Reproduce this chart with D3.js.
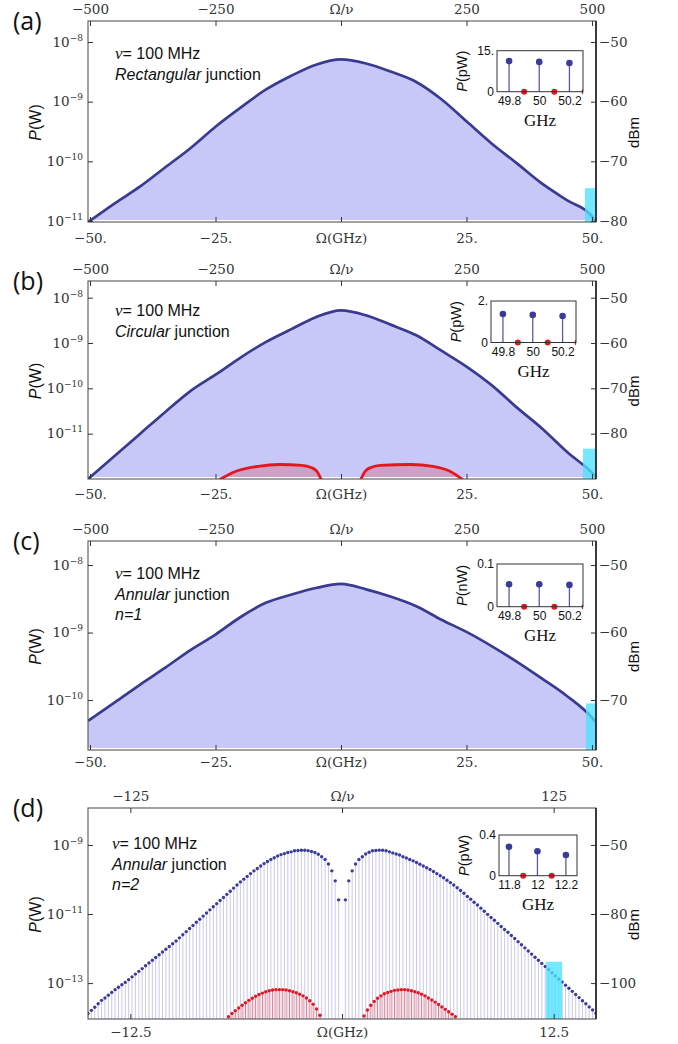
<!DOCTYPE html>
<html>
<head>
<meta charset="utf-8">
<script src="https://cdn.jsdelivr.net/npm/d3@7/dist/d3.min.js"></script>
<style>
  body { margin: 0; background: #fff; }
  svg { display: block; }
</style>
</head>
<body>
<script>
// Emission spectra. Powers are kept as log10(P / W).

// ---- panels (a)-(c): continuous envelopes ----
var omegaGrid = [-50.4, -45, -40, -35, -30, -25, -20, -15, -10, -5, 0, 5, 10, 15, 20, 25, 30, 35, 40, 45, 50, 50.8];

var logPRectangular = [-11.02, -10.7, -10.42, -10.1, -9.78, -9.42, -9.1, -8.8, -8.57, -8.38, -8.29,
                       -8.36, -8.5, -8.67, -8.96, -9.33, -9.7, -10.03, -10.37, -10.65, -10.92, -11.02];
var logPCircular = [-12.0, -11.48, -11.0, -10.52, -10.06, -9.7, -9.32, -8.98, -8.7, -8.43, -8.28,
                    -8.39, -8.6, -8.83, -9.17, -9.52, -9.93, -10.42, -10.88, -11.4, -11.86, -11.95];
var logPAnnular1 = [-10.31, -10.03, -9.77, -9.52, -9.26, -9.03, -8.77, -8.56, -8.44, -8.34, -8.28,
                    -8.36, -8.47, -8.61, -8.81, -8.99, -9.2, -9.43, -9.68, -9.94, -10.26, -10.33];

// circular junction, the two red lobes
var redOmegaLeft = [-24.3, -20.9, -16.5, -12.2, -7.8, -6.1, -4.8, -3.9];
var redLogPLeft = [-12.02, -11.83, -11.72, -11.68, -11.7, -11.74, -11.83, -12.02];
var redOmegaRight = [3.9, 4.8, 6.1, 7.8, 13.9, 18.3, 21.7, 24.3];
var redLogPRight = [-12.02, -11.83, -11.74, -11.7, -11.68, -11.72, -11.83, -12.02];

// ---- panel (d): annular junction n=2, discrete lines ----
var combOmega = [-15, -14.8, -14.6, -14.4, -14.2, -14, -13.8, -13.6, -13.4, -13.2, -13, -12.8, -12.6, -12.4, -12.2,
  -12, -11.8, -11.6, -11.4, -11.2, -11, -10.8, -10.6, -10.4, -10.2, -10, -9.8, -9.6, -9.4, -9.2, -9, -8.8, -8.6,
  -8.4, -8.2, -8, -7.8, -7.6, -7.4, -7.2, -7, -6.8, -6.6, -6.4, -6.2, -6, -5.8, -5.6, -5.4, -5.2, -5, -4.8, -4.6,
  -4.4, -4.2, -4, -3.8, -3.6, -3.4, -3.2, -3, -2.8, -2.6, -2.4, -2.2, -2, -1.8, -1.6, -1.4, -1.2, -1, -0.8, -0.6,
  -0.4, -0.2, 0, 0.2, 0.4, 0.6, 0.8, 1, 1.2, 1.4, 1.6, 1.8, 2, 2.2, 2.4, 2.6, 2.8, 3, 3.2, 3.4, 3.6, 3.8, 4, 4.2,
  4.4, 4.6, 4.8, 5, 5.2, 5.4, 5.6, 5.8, 6, 6.2, 6.4, 6.6, 6.8, 7, 7.2, 7.4, 7.6, 7.8, 8, 8.2, 8.4, 8.6, 8.8, 9,
  9.2, 9.4, 9.6, 9.8, 10, 10.2, 10.4, 10.6, 10.8, 11, 11.2, 11.4, 11.6, 11.8, 12, 12.2, 12.4, 12.6, 12.8, 13,
  13.2, 13.4, 13.6, 13.8, 14, 14.2, 14.4, 14.6, 14.8, 15];
var combLogP = [-13.88, -13.79, -13.7, -13.6, -13.5, -13.43, -13.35, -13.27, -13.19, -13.12, -13.05, -12.98, -12.9,
  -12.82, -12.74, -12.66, -12.58, -12.5, -12.42, -12.34, -12.26, -12.18, -12.1, -12.02, -11.94, -11.86, -11.78,
  -11.69, -11.6, -11.51, -11.42, -11.33, -11.24, -11.15, -11.06, -10.97, -10.88, -10.79, -10.7, -10.61, -10.52,
  -10.43, -10.34, -10.25, -10.16, -10.07, -9.99, -9.91, -9.83, -9.75, -9.68, -9.61, -9.54, -9.48, -9.42, -9.37,
  -9.32, -9.28, -9.25, -9.22, -9.2, -9.17, -9.16, -9.155, -9.155, -9.165, -9.19, -9.22, -9.27, -9.34, -9.42,
  -9.55, -9.75, -10.04, -10.59, null,
  -10.59, -10.04, -9.75, -9.55, -9.42, -9.34, -9.26, -9.21, -9.17, -9.16, -9.15, -9.155, -9.17, -9.2, -9.23,
  -9.26, -9.29, -9.34, -9.38, -9.42, -9.46, -9.51, -9.56, -9.61, -9.66, -9.71, -9.77, -9.83, -9.89, -9.95,
  -10.02, -10.09, -10.16, -10.24, -10.32, -10.4, -10.49, -10.57, -10.66, -10.74, -10.83, -10.92, -11.01, -11.1,
  -11.18, -11.27, -11.36, -11.45, -11.53, -11.62, -11.71, -11.8, -11.89, -11.98, -12.07, -12.16, -12.25, -12.34,
  -12.43, -12.52, -12.61, -12.7, -12.79, -12.88, -12.97, -13.06, -13.15, -13.24, -13.33, -13.42, -13.51, -13.6,
  -13.69, -13.78, -13.87];
var combRedOmega = [-6.7, -6.5, -6.3, -6.1, -5.9, -5.7, -5.5, -5.3, -5.1, -4.9, -4.7, -4.5, -4.3, -4.1, -3.9, -3.7,
  -3.5, -3.3, -3.1, -2.9, -2.7, -2.5, -2.3, -2.1, -1.9, -1.7, -1.5, -1.3,
  1.3, 1.5, 1.7, 1.9, 2.1, 2.3, 2.5, 2.7, 2.9, 3.1, 3.3, 3.5, 3.7, 3.9, 4.1, 4.3, 4.5, 4.7, 4.9, 5.1, 5.3, 5.5,
  5.7, 5.9, 6.1, 6.3, 6.5, 6.7];
var combRedLogP = [-13.97, -13.88, -13.8, -13.72, -13.64, -13.57, -13.5, -13.44, -13.38, -13.33, -13.29, -13.25,
  -13.22, -13.2, -13.19, -13.19, -13.19, -13.2, -13.22, -13.25, -13.28, -13.32, -13.37, -13.43, -13.51, -13.61,
  -13.75, -13.93,
  -13.95, -13.78, -13.64, -13.53, -13.44, -13.37, -13.31, -13.27, -13.24, -13.21, -13.2, -13.19, -13.19, -13.2,
  -13.22, -13.25, -13.28, -13.32, -13.37, -13.43, -13.49, -13.55, -13.62, -13.69, -13.76, -13.83, -13.9, -13.97];

// highlighted bands [from, to, log10 top]
var bandRectangular = [48.6, 50.8, -10.45];
var bandCircular = [48.2, 50.8, -11.33];
var bandAnnular1 = [48.8, 50.8, -10.05];
var bandAnnular2 = [12.05, 13.0, -12.38];

// ---- insets ----
var insetFreq50 = [49.8, 50, 50.2];
var insetLabels50 = ["49.8", "50", "50.2"];
var insetRedFreq50 = [49.7, 49.9, 50.1, 50.3];
var insetFreq12 = [11.8, 12, 12.2];
var insetLabels12 = ["11.8", "12", "12.2"];
var insetRedFreq12 = [11.7, 11.9, 12.1, 12.3];
var insetRectangular = [11.2, 10.9, 10.5];   // pW
var insetCircular = [1.37, 1.33, 1.28];      // pW
var insetAnnular1 = [0.0525, 0.0525, 0.051]; // nW
var insetAnnular2 = [0.285, 0.24, 0.203];    // pW

// ---- tick labels ----
var omegaTicks = [-50, -25, 0, 25, 50];
var omegaLabels = ["\u221250.", "\u221225.", "\u03A9(GHz)", "25.", "50."];
var ratioTicks = [-500, -250, 0, 250, 500];
var ratioLabels = ["\u2212500", "\u2212250", "\u03A9/\u03BD", "250", "500"];
var omegaTicksD = [-12.5, 0, 12.5];
var omegaLabelsD = ["\u221212.5", "\u03A9(GHz)", "12.5"];
var ratioTicksD = [-125, 0, 125];
var ratioLabelsD = ["\u2212125", "\u03A9/\u03BD", "125"];
var powerTicks4 = [1e-8, 1e-9, 1e-10, 1e-11];
var powerTicks3 = [1e-8, 1e-9, 1e-10];
var powerTicksD = [1e-9, 1e-11, 1e-13];
var dbmTicks4 = [-50, -60, -70, -80];
var dbmTicks3 = [-50, -60, -70];
var dbmTicksD = [-60, -80, -100];
var dbmLabelsD = ["\u221250", "\u221280", "\u2212100"]; // as printed in the figure

// ---------------------------------------------------------------
var svg = d3.select("body").append("svg").attr("width", 678).attr("height", 1044);

var plotLeft = 88, plotRight = 596;
var numFont = "'DejaVu Serif', serif";
var serifFont = "'Liberation Serif', 'Times New Roman', serif";
var sansFont = "'Liberation Sans', Arial, sans-serif";
var navy = "#3a3a90", lavender = "#c7c7f8", red = "#e6161e", cyan = "#4de2ff";

function P(v) { return Math.pow(10, v); }

var panels = [
  { key: "a", label: "(a)", top: 21, bottom: 222, logTop: -7.648, logBottom: -11.017, xDomain: [-50.4, 50.8],
    xTicks: omegaTicks, xLabels: omegaLabels, topTicks: ratioTicks, topLabels: ratioLabels, bottomPad: 11,
    yTicks: powerTicks4, dbmTicks: dbmTicks4, curve: logPRectangular, band: bandRectangular,
    lines: [[["\u03BD", "nu"], ["= 100 MHz"]], [["Rectangular", "it"], [" junction"]]], textX: 115, textY: 59,
    inset: { left: 497, right: 583, top: 50.7, bottom: 91.7, xDomain: [49.72, 50.29], yMax: 15, yLabels: ["0", "15."],
             freq: insetFreq50, freqLabels: insetLabels50, red: insetRedFreq50, values: insetRectangular, unit: "pW" } },
  { key: "b", label: "(b)", top: 281, bottom: 479, logTop: -7.632, logBottom: -12.0, xDomain: [-50.4, 50.8],
    xTicks: omegaTicks, xLabels: omegaLabels, topTicks: ratioTicks, topLabels: ratioLabels, bottomPad: 10,
    yTicks: powerTicks4, dbmTicks: dbmTicks4, curve: logPCircular, band: bandCircular,
    redLobes: [[redOmegaLeft, redLogPLeft], [redOmegaRight, redLogPRight]],
    lines: [[["\u03BD", "nu"], ["= 100 MHz"]], [["Circular", "it"], [" junction"]]], textX: 115, textY: 316,
    inset: { left: 491, right: 576, top: 301, bottom: 342.5, xDomain: [49.72, 50.29], yMax: 2, yLabels: ["0", "2."],
             freq: insetFreq50, freqLabels: insetLabels50, red: insetRedFreq50, values: insetCircular, unit: "pW" } },
  { key: "c", label: "(c)", top: 541, bottom: 750, logTop: -7.644, logBottom: -10.74, xDomain: [-50.4, 50.8],
    xTicks: omegaTicks, xLabels: omegaLabels, topTicks: ratioTicks, topLabels: ratioLabels, bottomPad: 7,
    yTicks: powerTicks3, dbmTicks: dbmTicks3, curve: logPAnnular1, band: bandAnnular1,
    lines: [[["\u03BD", "nu"], ["= 100 MHz"]], [["Annular", "it"], [" junction"]], [["n=1", "it"]]], textX: 115, textY: 579,
    inset: { left: 497, right: 583, top: 564, bottom: 606.7, xDomain: [49.72, 50.29], yMax: 0.1, yLabels: ["0", "0.1"],
             freq: insetFreq50, freqLabels: insetLabels50, red: insetRedFreq50, values: insetAnnular1, unit: "nW" } },
  { key: "d", label: "(d)", top: 808, bottom: 1019, logTop: -7.93, logBottom: -14.04, xDomain: [-15, 15],
    xTicks: omegaTicksD, xLabels: omegaLabelsD, topTicks: ratioTicksD, topLabels: ratioLabelsD, bottomPad: 8,
    yTicks: powerTicksD, dbmTicks: dbmTicksD, dbmLabels: dbmLabelsD, comb: true, band: bandAnnular2,
    lines: [[["\u03BD", "nu"], ["= 100 MHz"]], [["Annular", "it"], [" junction"]], [["n=2", "it"]]], textX: 112, textY: 849,
    inset: { left: 499, right: 577, top: 835, bottom: 875.7, xDomain: [11.73, 12.278], yMax: 0.4, yLabels: ["0", "0.4"],
             freq: insetFreq12, freqLabels: insetLabels12, red: insetRedFreq12, values: insetAnnular2, unit: "pW" } }
];

function styleAxis(g, font, size) {
  g.attr("font-family", font).attr("font-size", size).attr("color", "#333");
  g.select(".domain").remove();
}

function drawPanel(p) {
  var x = d3.scaleLinear().domain(p.xDomain).range([plotLeft, plotRight]);
  var xTop = d3.scaleLinear().domain([p.xDomain[0] * 10, p.xDomain[1] * 10]).range([plotLeft, plotRight]);
  var y = d3.scaleLog().domain([P(p.logBottom), P(p.logTop)]).range([p.bottom, p.top]);
  var dbm = d3.scaleLinear().domain([10 * p.logBottom + 30, 10 * p.logTop + 30]).range([p.bottom, p.top]);

  svg.append("clipPath").attr("id", "clip-" + p.key).append("rect")
    .attr("x", plotLeft).attr("y", p.top)
    .attr("width", plotRight - plotLeft).attr("height", p.bottom - p.top);
  var plot = svg.append("g").attr("clip-path", "url(#clip-" + p.key + ")");

  if (p.curve) {
    var pts = omegaGrid.map(function (o, i) { return { o: o, v: P(p.curve[i]) }; });
    plot.append("path").datum(pts)
      .attr("d", d3.area().x(d => x(d.o)).y0(p.bottom - 2).y1(d => y(d.v)).curve(d3.curveMonotoneX))
      .attr("fill", lavender);
    (p.redLobes || []).forEach(function (lobe) {
      var rp = lobe[0].map(function (o, i) { return { o: o, v: P(lobe[1][i]) }; });
      plot.append("path").datum(rp)
        .attr("d", d3.area().x(d => x(d.o)).y0(p.bottom - 2).y1(d => y(d.v)).curve(d3.curveMonotoneX))
        .attr("fill", red).attr("fill-opacity", 0.22);
      plot.append("path").datum(rp)
        .attr("d", d3.line().x(d => x(d.o)).y(d => y(d.v)).curve(d3.curveMonotoneX))
        .attr("fill", "none").attr("stroke", red).attr("stroke-width", 2.8);
    });
    plot.append("path").datum(pts)
      .attr("d", d3.line().x(d => x(d.o)).y(d => y(d.v)).curve(d3.curveMonotoneX))
      .attr("fill", "none").attr("stroke", navy).attr("stroke-width", 2.7);
  }

  if (p.comb) {
    var blue = combOmega.map(function (o, i) { return { o: o, v: combLogP[i] }; }).filter(d => d.v !== null);
    var reds = combRedOmega.map(function (o, i) { return { o: o, v: combRedLogP[i] }; });
    plot.selectAll(".stem-b").data(blue).enter().append("line")
      .attr("x1", d => x(d.o)).attr("x2", d => x(d.o))
      .attr("y1", p.bottom).attr("y2", d => y(P(d.v)))
      .attr("stroke", "#c9c9ee").attr("stroke-width", 1);
    plot.selectAll(".stem-r").data(reds).enter().append("line")
      .attr("x1", d => x(d.o)).attr("x2", d => x(d.o))
      .attr("y1", p.bottom).attr("y2", d => y(P(d.v)))
      .attr("stroke", "#f07a7a").attr("stroke-width", 1);
    plot.selectAll(".dot-b").data(blue).enter().append("circle")
      .attr("cx", d => x(d.o)).attr("cy", d => y(P(d.v))).attr("r", 1.7).attr("fill", "#3c3c9c");
    plot.selectAll(".dot-r").data(reds).enter().append("circle")
      .attr("cx", d => x(d.o)).attr("cy", d => y(P(d.v))).attr("r", 1.7).attr("fill", red);
  }

  // highlighted band
  plot.append("rect")
    .attr("x", x(p.band[0])).attr("width", x(p.band[1]) - x(p.band[0]))
    .attr("y", y(P(p.band[2]))).attr("height", p.bottom - y(P(p.band[2])))
    .attr("fill", cyan).attr("opacity", 0.78);

  // frame
  svg.append("rect").attr("x", plotLeft).attr("y", p.top)
    .attr("width", plotRight - plotLeft).attr("height", p.bottom - p.top)
    .attr("fill", "none").attr("stroke", "#555").attr("stroke-width", 1.1);
  svg.append("line").attr("x1", plotRight).attr("x2", plotRight).attr("y1", p.top).attr("y2", p.bottom)
    .attr("stroke", "#111").attr("stroke-width", 1.4);

  // axes
  var left = svg.append("g").attr("transform", "translate(" + plotLeft + ",0)")
    .call(d3.axisLeft(y).tickValues(p.yTicks).tickSizeInner(-5).tickSizeOuter(0).tickPadding(5).tickFormat(() => ""));
  styleAxis(left, numFont, 13.5);
  left.selectAll(".tick text").each(function (d) {
    var t = d3.select(this);
    t.append("tspan").text("10");
    t.append("tspan").attr("dy", -6).attr("font-size", 9).text("\u2212" + Math.round(-Math.log10(d)));
  });

  var bottom = svg.append("g").attr("transform", "translate(0," + p.bottom + ")")
    .call(d3.axisBottom(x).tickValues(p.xTicks).tickSizeInner(-5).tickSizeOuter(0)
      .tickPadding(p.bottomPad).tickFormat((d, i) => p.xLabels[i]));
  styleAxis(bottom, numFont, 13.5);

  var topAx = svg.append("g").attr("transform", "translate(0," + p.top + ")")
    .call(d3.axisTop(xTop).tickValues(p.topTicks).tickSizeInner(-5).tickSizeOuter(0)
      .tickPadding(7).tickFormat((d, i) => p.topLabels[i]));
  styleAxis(topAx, numFont, 13.5);

  var right = svg.append("g").attr("transform", "translate(" + plotRight + ",0)")
    .call(d3.axisRight(dbm).tickValues(p.dbmTicks).tickSizeInner(-5).tickSizeOuter(0).tickPadding(3)
      .tickFormat((d, i) => p.dbmLabels ? p.dbmLabels[i] : d3.format("d")(d)));
  styleAxis(right, numFont, 13.5);

  var midY = (p.top + p.bottom) / 2;
  var yl = svg.append("text").attr("transform", "translate(41," + (midY + 1) + ") rotate(-90)")
    .attr("text-anchor", "middle").attr("font-family", sansFont).attr("font-size", 16).attr("fill", "#111");
  yl.append("tspan").attr("font-style", "italic").text("P");
  yl.append("tspan").text("(W)");

  svg.append("text").attr("transform", "translate(639," + (midY + 11) + ") rotate(-90)")
    .attr("text-anchor", "middle").attr("font-family", sansFont).attr("font-size", 15).attr("fill", "#111")
    .text("dBm");

  // panel tag
  svg.append("text").attr("x", 13).attr("y", p.top + 9)
    .attr("font-family", "'Open Sans', sans-serif").attr("font-size", 25).attr("fill", "#111").text(p.label);

  // annotation
  p.lines.forEach(function (line, k) {
    var t = svg.append("text").attr("x", p.textX).attr("y", p.textY + k * 20.5)
      .attr("font-family", sansFont).attr("font-size", 16).attr("fill", "#111");
    line.forEach(function (seg) {
      var s = t.append("tspan").text(seg[0]);
      if (seg[1] === "it") s.attr("font-style", "italic");
      if (seg[1] === "nu") s.attr("font-family", serifFont).attr("font-style", "italic").attr("font-size", 17);
    });
  });

  drawInset(p.key, p.inset);
}

function drawInset(key, s) {
  var ix = d3.scaleLinear().domain(s.xDomain).range([s.left, s.right]);
  var iy = d3.scaleLinear().domain([0, s.yMax]).range([s.bottom, s.top]);

  svg.append("clipPath").attr("id", "iclip-" + key).append("rect")
    .attr("x", s.left).attr("y", s.top - 6).attr("width", s.right - s.left).attr("height", s.bottom - s.top + 12);
  var g = svg.append("g").attr("clip-path", "url(#iclip-" + key + ")");

  var blue = s.freq.map(function (f, i) { return { f: f, v: s.values[i] }; });
  g.selectAll(".istem").data(blue).enter().append("line")
    .attr("x1", d => ix(d.f)).attr("x2", d => ix(d.f))
    .attr("y1", iy(0)).attr("y2", d => iy(d.v))
    .attr("stroke", "#5a5aae").attr("stroke-width", 1.3);

  svg.append("rect").attr("x", s.left).attr("y", s.top)
    .attr("width", s.right - s.left).attr("height", s.bottom - s.top)
    .attr("fill", "none").attr("stroke", "#333").attr("stroke-width", 1);

  g.selectAll(".idot").data(blue).enter().append("circle")
    .attr("cx", d => ix(d.f)).attr("cy", d => iy(d.v)).attr("r", 3.3).attr("fill", "#3c3c98");
  g.selectAll(".ired").data(s.red).enter().append("circle")
    .attr("cx", d => ix(d)).attr("cy", iy(0)).attr("r", 3).attr("fill", red);

  var ax = svg.append("g").attr("transform", "translate(0," + s.bottom + ")")
    .call(d3.axisBottom(ix).tickValues(s.freq).tickSize(0).tickPadding(5).tickFormat((d, i) => s.freqLabels[i]));
  styleAxis(ax, sansFont, 12);
  ax.attr("color", "#111");

  var ay = svg.append("g").attr("transform", "translate(" + s.left + ",0)")
    .call(d3.axisLeft(iy).tickValues([0, s.yMax]).tickSize(0).tickPadding(3).tickFormat((d, i) => s.yLabels[i]));
  styleAxis(ay, sansFont, 12);
  ay.attr("color", "#111");

  var t = svg.append("text")
    .attr("transform", "translate(" + (s.left - 30) + "," + ((s.top + s.bottom) / 2) + ") rotate(-90)")
    .attr("text-anchor", "middle").attr("font-family", sansFont).attr("font-size", 14.5).attr("fill", "#111");
  t.append("tspan").attr("font-style", "italic").text("P");
  t.append("tspan").text("(" + s.unit + ")");

  svg.append("text").attr("x", (s.left + s.right) / 2).attr("y", s.bottom + 34)
    .attr("text-anchor", "middle").attr("font-family", serifFont).attr("font-size", 17).attr("fill", "#111")
    .text("GHz");
}

panels.forEach(drawPanel);
</script>
</body>
</html>
